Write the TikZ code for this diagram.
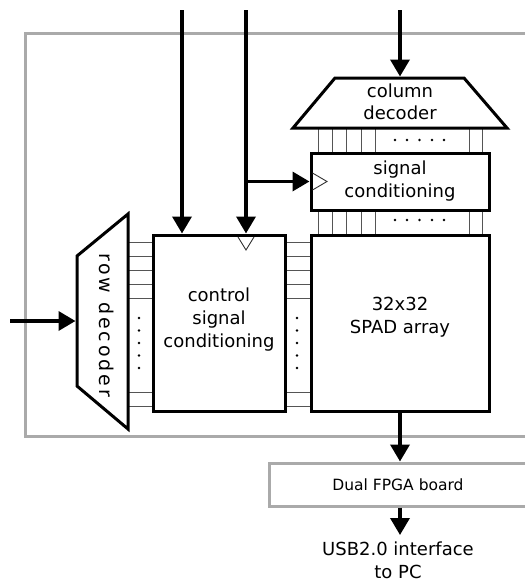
\documentclass[tikz,border=0pt]{standalone}
\usepackage{fontspec}
\setmainfont{DejaVu Sans}
\newfontfamily\rowfont[LetterSpace=15]{DejaVu Sans}
\usetikzlibrary{arrows.meta}
\definecolor{framec}{HTML}{AAAAAA}
\definecolor{wirec}{HTML}{555555}
\begin{document}
\begin{tikzpicture}[x=1pt,y=-1pt,
  arr/.style={line width=3.5pt,-{Triangle[length=17pt,width=19pt]}},
  blk/.style={draw,line width=3pt},
  wire/.style={line width=0.9pt,draw=wirec},
  clk/.style={line width=0.9pt,draw=black!80},
  txt/.style={font=\fontsize{18}{23}\selectfont,align=center,inner sep=0pt},
  dotmark/.style={fill=black},
]
\useasboundingbox (0,0) rectangle (525,582);
\clip (0,0) rectangle (525,582);
\fill[white] (0,0) rectangle (525,582);

% outer frame (extends past the right edge)
\draw[draw=framec,line width=3pt] (545,33) -- (25,33) -- (25,436) -- (545,436);

% wires
\foreach \y in {242,256,270,284,298,392,406} {
  \draw[wire] (128,\y) -- (153,\y);
  \draw[wire] (285,\y) -- (311,\y);
}
\foreach \x in {318,332,346,361,375,469,482} {
  \draw[wire] (\x,128) -- (\x,153);
  \draw[wire] (\x,210) -- (\x,235);
}
\foreach \y in {318,330.5,343,355.5,368} {
  \fill[dotmark] (139,\y) circle (1.4pt);
  \fill[dotmark] (297,\y) circle (1.4pt);
}
\foreach \x in {395,407,419.5,432,444} {
  \fill[dotmark] (\x,140) circle (1.4pt);
  \fill[dotmark] (\x,220) circle (1.4pt);
}

% blocks
\node[blk,minimum width=132pt,minimum height=176pt] (ctrl) at (219,323) {};
\node[blk,minimum width=178pt,minimum height=176pt] (spad) at (400,323) {};
\node[blk,minimum width=178pt,minimum height=57pt] (sig) at (400,181.5) {};
\draw[blk] (335,78) -- (464,78) -- (507,128) -- (293,128) -- cycle;
\draw[blk] (128,214) -- (128,429) -- (77,386) -- (77,256) -- cycle;

% texts
\node[txt,font=\fontsize{18}{21.5}\selectfont] (coldectxt) at (400,102) {column\\decoder};
\node[txt] (sigtxt) at (400,181) {signal\\conditioning};
\node[txt] (ctrltxt) at (219,320) {control\\signal\\conditioning};
\node[txt] (spadtxt) at (400,317) {32x32\\SPAD array};
\node[font=\rowfont\fontsize{19}{22}\selectfont,rotate=-90,inner sep=0pt] (rowtxt) at (106.5,325) {row decoder};

% clock markers
\draw[clk] (238,237) -- (246,250) -- (254,237);
\draw[clk] (312.5,173) -- (327,181.5) -- (312.5,190);

% FPGA board
\node[draw=framec,line width=3pt,minimum width=258pt,minimum height=43pt,
      font=\fontsize{15.5}{18}\selectfont] (fpga) at (398,484.5) {Dual FPGA board};

% connectors
\coordinate (inA) at (182,10);
\coordinate (inB) at (246,10);
\coordinate (inC) at (400,10);
\coordinate (cdtop) at (400,76.5);
\coordinate (br) at (246,181.5);
\coordinate (rdin) at (10,321);
\coordinate (rdleft) at (75.5,321);
\coordinate (usb) at (400,535);
\draw[arr] (inA) -- (inA |- ctrl.north);
\draw[arr] (inB) -- (inB |- ctrl.north);
\draw[arr] (inC) -- (cdtop);
\draw[arr] (br) -- (sig.west);
\draw[arr] (rdin) -- (rdleft);
\draw[arr] (spad.south) -- (spad.south |- fpga.north);
\draw[arr] (spad.south |- fpga.south) -- (usb);

\node[txt,anchor=north] (usbtxt) at (398,542) {USB2.0 interface\\to PC};
\end{tikzpicture}
\end{document}
